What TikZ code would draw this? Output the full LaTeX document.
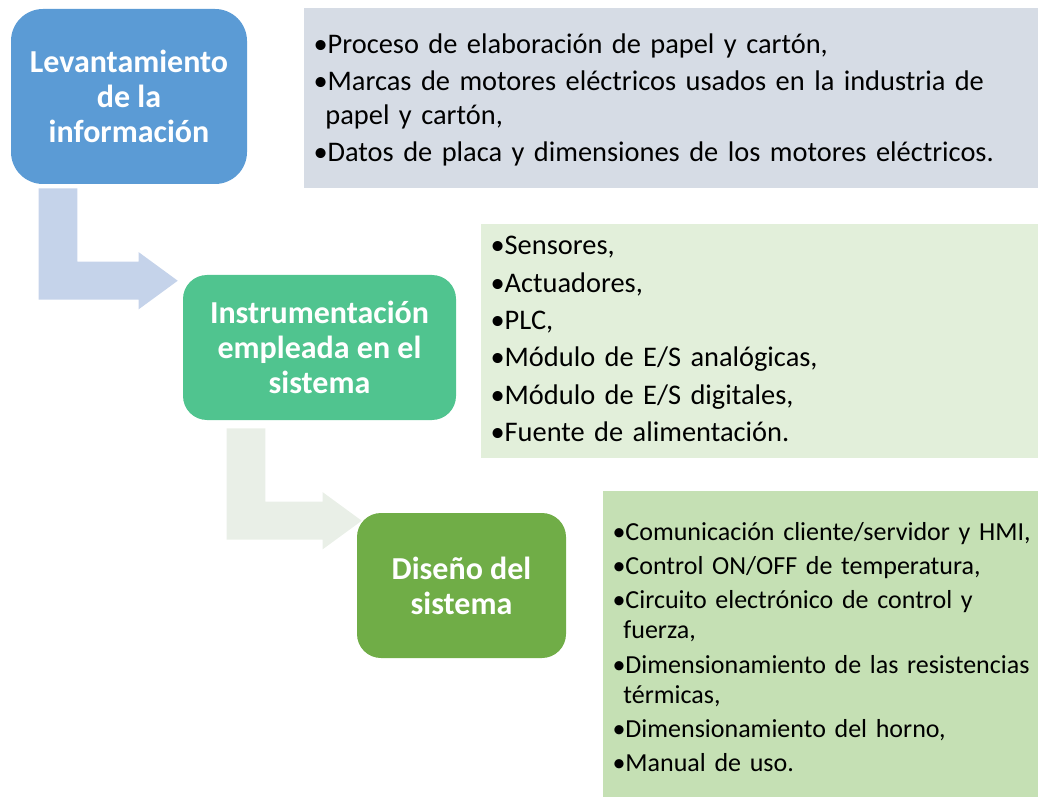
\documentclass[tikz,border=0pt]{standalone}
\usepackage{fontspec}
\setmainfont{Carlito}
\usepackage{tikz}
\usetikzlibrary{positioning, calc}
\definecolor{levblue}{HTML}{5B9BD5}
\definecolor{levinfo}{HTML}{D6DCE5}
\definecolor{levarrow}{HTML}{C5D3EA}
\definecolor{instgreen}{HTML}{50C48F}
\definecolor{instinfo}{HTML}{E2EFDA}
\definecolor{instarrow}{HTML}{E9EFE7}
\definecolor{disgreen}{HTML}{70AD47}
\definecolor{disinfo}{HTML}{C5E0B4}
\newcommand{\headfont}{\fontsize{24pt}{26.25pt}\selectfont\bfseries}
\newcommand{\bodyfont}{\fontsize{21.3pt}{25.5pt}\selectfont}
\newcommand{\smallbodyfont}{\fontsize{19.5pt}{22.5pt}\selectfont}
\newcommand{\bitem}[1]{\par\hangindent=0.42em\hangafter=1\noindent\textbullet#1}
\newcommand{\nl}{\hfil\break}
% block arrow bent down-right: style, stem top-left corner, tip
\newcommand{\bentarrow}[3]{%
    \fill[#1] let \p1 = #2, \p2 = #3 in
        (\x1,\y1) -- (\x1+28.9pt,\y1) -- (\x1+28.9pt,\y2+14.25pt) -- (\x2-29.25pt,\y2+14.25pt)
        -- (\x2-29.25pt,\y2+21.4pt) -- (\x2,\y2) -- (\x2-29.25pt,\y2-21.4pt)
        -- (\x2-29.25pt,\y2-14.25pt) -- (\x1,\y2-14.25pt) -- cycle;}
\tikzset{
    block/.style={rectangle, rounded corners=18pt, text=white, align=center, font=\headfont, inner sep=0pt, minimum height=108.75pt},
    infobox/.style={rectangle, inner xsep=1pt, inner ysep=0pt, font=\bodyfont, execute at begin node={\raggedright\leftskip=6.5pt\hyphenpenalty=10000\setlength{\parskip}{2.25pt}}}
}
\begin{document}
\begin{tikzpicture}[x=0.75pt, y=-0.75pt]
    \useasboundingbox (0,0) rectangle (1038,798);

    % Nodes
    \node (lev) [block, fill=levblue, rounded corners=24pt, minimum width=177pt, minimum height=131.25pt] at (129,96.5) {Levantamiento\\ de la\\ información};
    \node (levinfo) [infobox, fill=levinfo, right=42pt of lev.north east, anchor=north west, yshift=0.75pt, text width=548.5pt, text height=6.4pt, text depth=128.6pt] {%
        \bitem{Proceso de elaboración de papel y cartón,}
        \bitem{Marcas de motores eléctricos usados en la industria de\nl papel y cartón,}
        \bitem{Datos de placa y dimensiones de los motores eléctricos.}};

    \node (inst) [block, fill=instgreen, minimum width=204.75pt] at (319.5,347.5) {Instrumentación\\ empleada en el\\ sistema};
    \node (instinfo) [infobox, fill=instinfo, right=18pt of inst.north east, anchor=north west, yshift=38.25pt, text width=415.75pt, text height=0pt, text depth=175.5pt, execute at begin node={\setlength{\parskip}{2.5pt}}] {%
        \vspace*{-4.9pt}
        \bitem{Sensores,}
        \bitem{Actuadores,}
        \bitem{PLC,}
        \bitem{Módulo de E/S analógicas,}
        \bitem{Módulo de E/S digitales,}
        \bitem{Fuente de alimentación.}};

    \node (dis) [block, fill=disgreen, minimum width=156.75pt] at (461.5,585.5) {Diseño del\\ sistema};
    \node (disinfo) [infobox, fill=disinfo, font=\smallbodyfont, right=27pt of dis.north east, anchor=north west, yshift=16.5pt, text width=324.25pt, text height=11.25pt, text depth=218.25pt, execute at begin node={\setlength{\parskip}{3.2pt}}] {%
        \bitem{Comunicación cliente/servidor y HMI,}
        \bitem{Control ON/OFF de temperatura,}
        \bitem{Circuito electrónico de control y\nl fuerza,}
        \bitem{Dimensionamiento de las resistencias\nl térmicas,}
        \bitem{Dimensionamiento del horno,}
        \bitem{Manual de uso.}};

    % Arrows
    \bentarrow{levarrow}{($(lev.south west)+(28,4)$)}{($(inst.north west)+(-5,6)$)}
    \bentarrow{instarrow}{($(inst.south west)+(44,8)$)}{($(dis.north west)+(5,8)$)}

\end{tikzpicture}
\end{document}
